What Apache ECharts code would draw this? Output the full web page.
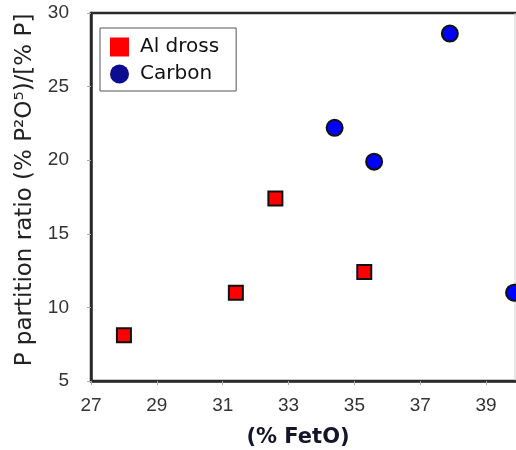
<!DOCTYPE html>
<html>
<head>
<meta charset="utf-8">
<script src="https://cdn.jsdelivr.net/npm/echarts@6/dist/echarts.min.js"></script>
<style>html,body{margin:0;padding:0;background:#fff}#c{width:516px;height:450px}</style>
</head>
<body>
<div id="c"></div>
<script>
var alDrossX = [28.0, 31.4, 32.6, 35.3];
var alDrossY = [8.1, 11.0, 17.4, 12.4];
var carbonX = [34.4, 35.6, 37.9, 39.85];
var carbonY = [22.2, 19.9, 28.6, 11.0];
var xTicks = {min: 27, max: 40, interval: 2};
var yTicks = {min: 5, max: 30, interval: 5};

function pairs(xs, ys) { return xs.map(function (x, i) { return [x, ys[i]]; }); }

var chart = echarts.init(document.getElementById('c'));
chart.setOption({
  animation: false,
  grid: {left: 91, right: -3, top: 13, bottom: 69, show: true, borderColor: '#2a2a2a', borderWidth: 2.5,
         containLabel: false, outerBoundsMode: 'none'},
  legend: {
    left: 100, top: 28, orient: 'vertical',
    backgroundColor: '#fff', borderColor: '#555', borderWidth: 1,
    padding: [9, 17, 7, 10], itemWidth: 19, itemHeight: 19, itemGap: 7,
    textStyle: {fontFamily: 'DejaVu Sans', fontSize: 20, color: '#111', padding: [0, 0, 0, 6]},
    data: [
      {name: 'Al dross', icon: 'rect', itemStyle: {color: '#ff0000', borderWidth: 0}},
      {name: 'Carbon', icon: 'circle', itemStyle: {color: '#0c0c90', borderWidth: 0}}
    ]
  },
  xAxis: {
    type: 'value', min: xTicks.min, max: xTicks.max, interval: xTicks.interval,
    name: '(% FetO)', nameLocation: 'middle', nameGap: 46,
    nameTextStyle: {fontFamily: 'DejaVu Sans', fontSize: 21, fontWeight: 'bold', color: '#15152a', padding: [0, 14, 0, 0]},
    axisLine: {show: true, lineStyle: {color: '#2a2a2a', width: 2.5}},
    axisTick: {show: true, length: 4, lineStyle: {color: '#aaa'}},
    axisLabel: {fontFamily: 'Liberation Sans', fontSize: 19, color: '#333', margin: 15, showMaxLabel: false},
    splitLine: {show: false}
  },
  yAxis: {
    type: 'value', min: yTicks.min, max: yTicks.max, interval: yTicks.interval,
    name: 'P partition ratio (% P\u00B2O\u2075)/[% P]', nameLocation: 'middle', nameGap: 54,
    nameTextStyle: {fontFamily: 'DejaVu Sans', fontSize: 23, color: '#222', padding: [0, 0, 0, 14]},
    axisLine: {show: true, lineStyle: {color: '#2a2a2a', width: 2.5}},
    axisTick: {show: true, length: 4, lineStyle: {color: '#aaa'}},
    axisLabel: {fontFamily: 'Liberation Sans', fontSize: 19, color: '#333', margin: 22},
    splitLine: {show: false}
  },
  graphic: [{type: 'line', shape: {x1: 515, y1: 13, x2: 515, y2: 381}, style: {stroke: '#ccc', lineWidth: 1}}],
  series: [
    {name: 'Al dross', type: 'scatter', symbol: 'rect', symbolSize: 14,
     itemStyle: {color: '#ff0000', borderColor: '#111', borderWidth: 2, opacity: 1},
     data: pairs(alDrossX, alDrossY)},
    {name: 'Carbon', type: 'scatter', symbol: 'circle', symbolSize: 16,
     itemStyle: {color: '#0000ff', borderColor: '#111', borderWidth: 2, opacity: 1},
     data: pairs(carbonX, carbonY)}
  ]
});
</script>
</body>
</html>
